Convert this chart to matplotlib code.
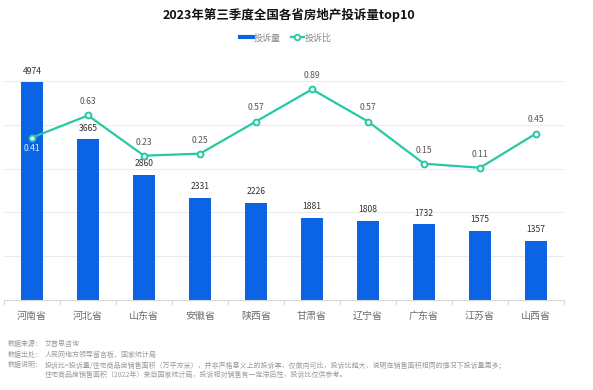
import matplotlib
matplotlib.use("Agg")
import matplotlib.pyplot as plt
from matplotlib.lines import Line2D

plt.rcParams["font.family"] = ["Noto Sans CJK SC", "DejaVu Sans"]
plt.rcParams["axes.unicode_minus"] = False

# data
provinces = ["河南省", "河北省", "山东省", "安徽省", "陕西省",
             "甘肃省", "辽宁省", "广东省", "江苏省", "山西省"]
complaints = [4974, 3665, 2860, 2331, 2226, 1881, 1808, 1732, 1575, 1357]
ratio = [0.41, 0.63, 0.23, 0.25, 0.57, 0.89, 0.57, 0.15, 0.11, 0.45]

title = "2023年第三季度全国各省房地产投诉量top10"
notes = [
    ("数据来源：", "艾普思咨询"),
    ("数据出处：", "人民网地方领导留言板、国家统计局"),
    ("数据说明：", "投诉比=投诉量/住宅商品房销售面积（万平方米），并非严格意义上的投诉率，仅做向可比，投诉比越大，说明在销售面积相同的情况下投诉量更多；"),
    ("", "住宅商品房销售面积（2022年）来自国家统计局，投诉相对销售有一定滞后性，投诉比仅供参考。"),
]

BAR_COLOR = "#0a64e3"
LINE_COLOR = "#26c9a4"
GRID_COLOR = "#ececec"

W, H = 593, 390
fig = plt.figure(figsize=(W / 100, H / 100), dpi=100)
fig.patch.set_facecolor("white")

left, right, bottom, top = 4, 564, 300, 81
ax = fig.add_axes([left / W, 1 - bottom / H, (right - left) / W, (bottom - top) / H])
x = list(range(len(provinces)))

ax.bar(x, complaints, width=0.39, color=BAR_COLOR, zorder=2)
ax.set_xlim(-0.5, len(provinces) - 0.5)
ax.set_ylim(0, 5000)
ax.set_yticks([1000, 2000, 3000, 4000, 5000])
ax.yaxis.grid(True, color=GRID_COLOR, linewidth=0.8)
ax.set_axisbelow(True)
for side in ("left", "right", "top"):
    ax.spines[side].set_visible(False)
ax.spines["bottom"].set_color("#d9d9d9")
ax.spines["bottom"].set_linewidth(0.8)

ax.set_xticks(x)
ax.set_xticklabels(provinces, fontsize=7.2, color="#6e6e6e")
ax.tick_params(axis="x", which="major", length=0, pad=8)
ax.set_xticks([i - 0.5 for i in range(len(provinces) + 1)], minor=True)
ax.tick_params(axis="x", which="minor", length=3.5, color="#d9d9d9", width=0.8)

for xi, v in zip(x, complaints):
    ax.annotate(str(v), (xi, v), xytext=(0, 8), textcoords="offset points",
                ha="center", va="center", fontsize=6.2, color="#333333")

ax2 = ax.twinx()
ax2.set_ylim(-1.206, 0.973)
ax2.axis("off")
# twinx switches the left ticks back on
ax.tick_params(axis="y", which="both", left=False, right=False,
               labelleft=False, labelright=False)

ax2.plot(x, ratio, color=LINE_COLOR, linewidth=1.6, marker="o", markersize=4.2,
         markerfacecolor="white", markeredgecolor=LINE_COLOR, markeredgewidth=1.4, zorder=3)
for i, (xi, r) in enumerate(zip(x, ratio)):
    if i == 0:
        ax2.annotate(f"{r:.2f}", (xi, r), xytext=(0, -8.2), textcoords="offset points",
                     ha="center", va="center", fontsize=6.2, color="#e3ecfa")
    else:
        ax2.annotate(f"{r:.2f}", (xi, r), xytext=(0, 9.8), textcoords="offset points",
                     ha="center", va="center", fontsize=6.2, color="#555555")

fig.text(289 / W, 1 - 15 / H, title, ha="center", va="center",
         fontsize=9, fontweight="bold", color="#111111")

handles = [
    Line2D([], [], color=BAR_COLOR, linewidth=3),
    Line2D([], [], color=LINE_COLOR, linewidth=1.6, marker="o", markersize=4,
           markerfacecolor="white", markeredgecolor=LINE_COLOR, markeredgewidth=1.3),
]
fig.legend(handles, ["投诉量", "投诉比"], loc="center", ncol=2,
           bbox_to_anchor=(286 / W, 1 - 38 / H), frameon=False, fontsize=6.5,
           labelcolor="#8a8a8a", handlelength=1.4, handletextpad=0.15,
           columnspacing=1.1)

ys = [344, 355, 365, 374.5]
for y, (label, text) in zip(ys, notes):
    if label:
        fig.text(8 / W, 1 - y / H, label, ha="left", va="center", fontsize=5, color="#9a9a9a")
    fig.text(45 / W, 1 - y / H, text, ha="left", va="center", fontsize=5, color="#9a9a9a")

fig.savefig("out.png", dpi=100, facecolor="white")
